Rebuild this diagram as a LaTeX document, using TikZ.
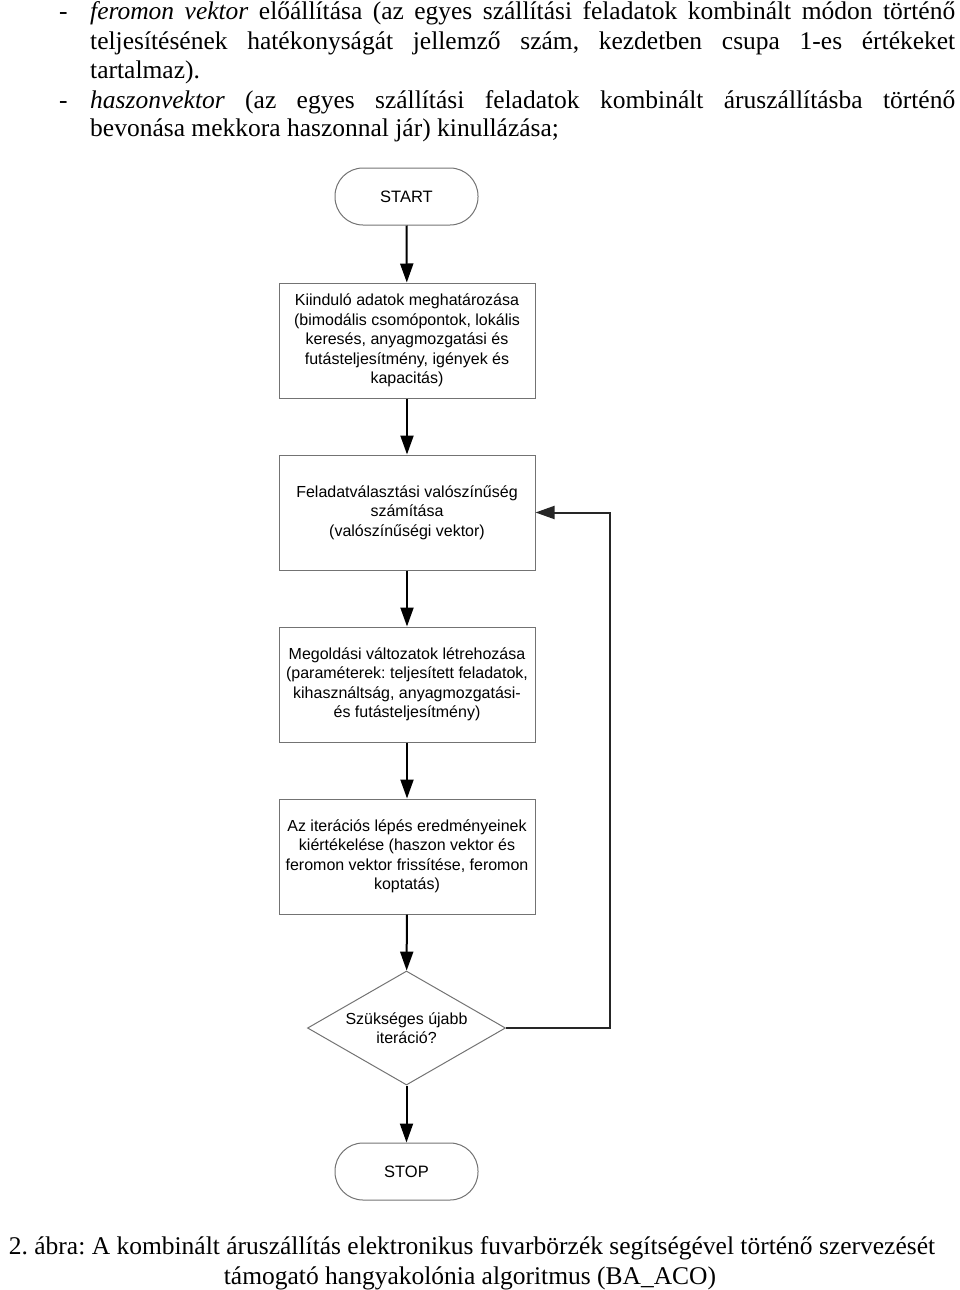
\documentclass[tikz,border=0pt]{standalone}
\usepackage{fontspec}
\setmainfont{Liberation Serif}
\newfontfamily\arialf{Liberation Sans}
\usetikzlibrary{arrows.meta,shapes.geometric}
\frenchspacing
\begin{document}
\begin{tikzpicture}[x=1pt,y=-1pt,
  txt/.style={anchor=base west,inner sep=0pt,font=\fontsize{25.5}{29}\selectfont},
  captxt/.style={anchor=base,inner sep=0pt,font=\fontsize{25.5}{29}\selectfont},
  box/.style={draw=black!55,line width=1pt,minimum width=256pt,minimum height=115pt,
    align=center,inner sep=0pt,font=\arialf\fontsize{16}{19.5}\selectfont},
  term/.style={draw=black!55,line width=1pt,minimum width=143pt,minimum height=57pt,
    rounded corners=28pt,inner sep=0pt,font=\arialf\fontsize{16.5}{19.5}\selectfont},
  dec/.style={draw=black!55,line width=1pt,diamond,aspect=1.737,minimum width=198pt,
    minimum height=114pt,inner sep=0pt,align=center,font=\arialf\fontsize{16}{19.5}\selectfont},
  arr/.style={line width=2pt,-{Triangle[length=19pt,width=13pt]}},
  ln/.style={line width=2pt,draw=black!85}]
\useasboundingbox (0,0) rectangle (960,1290);
% top text
\node[txt] (d1) at (59,20) {-};
\node[txt] (l1) at (90,20) {\makebox[865pt][s]{\textit{feromon vektor} előállítása (az egyes szállítási feladatok kombinált módon történő}};
\node[txt] (l2) at (90,49) {\makebox[865pt][s]{teljesítésének hatékonyságát jellemző szám, kezdetben csupa 1-es értékeket}};
\node[txt] (l3) at (90,78) {tartalmaz).};
\node[txt] (d2) at (59,108) {-};
\node[txt] (l4) at (90,108) {\makebox[865pt][s]{\textit{haszonvektor} (az egyes szállítási feladatok kombinált áruszállításba történő}};
\node[txt] (l5) at (90,136) {bevonása mekkora haszonnal jár) kinullázása;};
% flowchart
\node[term] (start) at (406.5,196.5) {START};
\node[box] (b1) at (407,340.5) {Kiinduló adatok meghatározása\\(bimodális csomópontok, lokális\\keresés, anyagmozgatási és\\futásteljesítmény, igények és\\kapacitás)};
\node[box] (b2) at (407,512.5) {Feladatválasztási valószínűség\\számítása\\(valószínűségi vektor)};
\node[box] (b3) at (407,684.5) {Megoldási változatok létrehozása\\(paraméterek: teljesített feladatok,\\kihasználtság, anyagmozgatási-\\és futásteljesítmény)};
\node[box] (b4) at (407,856.5) {Az iterációs lépés eredményeinek\\kiértékelése (haszon vektor és\\feromon vektor frissítése, feromon\\koptatás)};
\node[dec] (d) at (406.5,1028) {Szükséges újabb\\iteráció?};
\node[term] (stop) at (406.5,1171.5) {STOP};
\draw[arr] (start) -- (b1);
\draw[arr] (b1) -- (b2);
\draw[arr] (b2) -- (b3);
\draw[arr] (b3) -- (b4);
\draw[arr] (b4) -- (d);
\draw[arr] (d) -- (stop);
\coordinate (c1) at (610,1028);
\coordinate (c2) at (610,512.5);
\draw[ln,-{Triangle[length=19pt,width=13pt]}] (d.east) -- (c1) -- (c2) -- (b2.east);
% caption
\node[captxt] (cap1) at (472,1254) {2. ábra: A kombinált áruszállítás elektronikus fuvarbörzék segítségével történő szervezését};
\node[captxt] (cap2) at (470,1284) {támogató hangyakolónia algoritmus (BA\_ACO)};
\end{tikzpicture}
\end{document}
